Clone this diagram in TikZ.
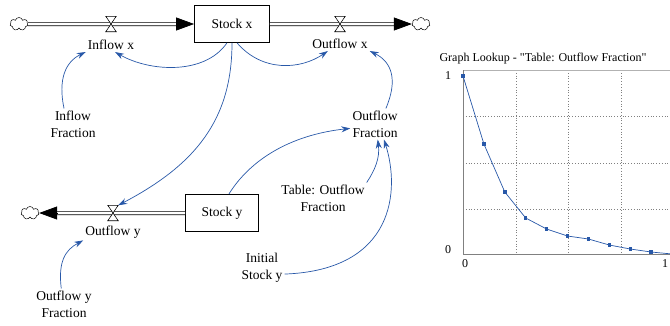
\documentclass[tikz,border=0pt]{standalone}
\usepackage{fontspec}
\setmainfont{Liberation Serif}
\usetikzlibrary{arrows.meta,shapes.symbols}
\definecolor{linkblue}{RGB}{40,88,168}
\newcommand{\dq}{\XeTeXglyph\XeTeXglyphindex "quotedbl" }

\begin{document}
\begin{tikzpicture}[x=1pt,y=1pt,
  font=\fontsize{13.5}{17}\selectfont,
  stock/.style={draw, line width=0.8pt, minimum width=75pt, minimum height=37pt},
  cloudy/.style={cloud, cloud puffs=7, draw, line width=0.5pt, minimum width=18pt, minimum height=13pt, inner sep=0pt},
  valve/.style={minimum width=10pt, minimum height=15pt, inner sep=0pt},
  lbl/.style={align=center, inner sep=2pt},
  pipe/.style={double distance=2.6pt, line width=0.7pt},
  pipehead/.style={-{Triangle[length=18pt,width=13pt]}, line width=0.7pt},
  link/.style={linkblue, line width=0.7pt, -{Stealth[length=9pt,width=6pt]}}]
\clip (0,0) rectangle (670,-325);
% stocks, clouds and valves
\node [stock] (sx) at (232,-24) {Stock x};
\node [stock, minimum width=73pt] (sy) at (222,-213) {Stock y};
\node [cloudy] (c1) at (19,-24) {};
\node [cloudy] (c2) at (421,-24) {};
\node [cloudy] (c3) at (30,-213) {};
\node [valve] (vx) at (111,-24) {};
\node [valve] (vo) at (340,-24) {};
\node [valve] (vy) at (113,-213) {};
% pipes
\draw [pipe] (c1) -- ([xshift=-16pt]sx.west);
\draw [pipehead] ([xshift=-18pt]sx.west) -- (sx.west);
\draw [pipe] (sx.east) -- ([xshift=-16pt]c2.west);
\draw [pipehead] ([xshift=-18pt]c2.west) -- (c2.west);
\draw [pipe] (sy.west) -- ([xshift=16pt]c3.east);
\draw [pipehead] ([xshift=18pt]c3.east) -- (c3.east);
\foreach \v in {vx,vo,vy}
  \draw [line width=0.6pt, fill=white] (\v.north west) -- (\v.north east) -- (\v.south west) -- (\v.south east) -- cycle;
% variables
\node [lbl] (ix) at (111,-45) {Inflow x};
\node [lbl] (ox) at (340,-44) {Outflow x};
\node [lbl] (oy) at (113,-232) {Outflow y};
\node [lbl] (inf) at (73,-124) {Inflow\\Fraction};
\node [lbl] (of) at (375,-124) {Outflow\\Fraction};
\node [lbl] (tof) at (323,-198) {Table: Outflow\\Fraction};
\node [lbl] (isy) at (262,-268) {Initial\\Stock y};
\node [lbl] (oyf) at (64,-304) {Outflow y\\Fraction};
% links
\draw [link] (sx.-105) .. controls (205,-75) and (150,-72) .. (ix.-60);
\draw [link] (sx.-75) .. controls (262,-72) and (300,-70) .. (ox.-150);
\draw [link] (inf.120) .. controls (58,-80) and (65,-62) .. (ix.south west);
\draw [link] (of.55) .. controls (398,-80) and (392,-62) .. (ox.south east);
\draw [link] (sx.south) .. controls (232,-120) and (195,-165) .. (vy.north east);
\draw [link] (sy.70) .. controls (250,-160) and (290,-135) .. (of.-170);
\draw [link] (tof.north east) .. controls (375,-170) and (380,-158) .. (of.-80);
\draw [link] (isy.-15) .. controls (395,-270) and (400,-190) .. (of.-60);
\draw [link] (oyf.100) .. controls (58,-262) and (65,-250) .. (oy.south west);
% lookup graph
\node [font=\fontsize{12}{14}\selectfont] (gt) at (543,-59) {Graph Lookup - \dq Table: Outflow Fraction\dq};
\foreach \gx in {516,568,621}
  \draw [gray, dotted, line width=0.8pt] (\gx,-70) -- (\gx,-254);
\foreach \gy in {116,163,209}
  \draw [gray, dotted, line width=0.8pt] (463,-\gy) -- (673,-\gy);
\draw [gray!60, line width=0.6pt] (463,-70) -- (673,-70);
\draw [gray, line width=0.8pt] (463,-70) -- (463,-254) -- (673,-254);
\draw [linkblue, line width=0.7pt] plot coordinates {(463,-76) (483.9,-144) (504.8,-192) (525.7,-218) (546.6,-229) (567.5,-236) (588.4,-239) (609.3,-245) (630.2,-249) (651.1,-252) (672,-254)};
\foreach \i/\v in {0/76,1/144,2/192,3/218,4/229,5/236,6/239,7/245,8/249,9/252}
  \fill [linkblue] (463+20.9*\i,-\v) +(-1.7,-1.7) rectangle +(1.7,1.7);
\node [font=\fontsize{12}{14}\selectfont] (y1) at (448,-76) {1};
\node [font=\fontsize{12}{14}\selectfont] (y0) at (448,-250) {0};
\node [font=\fontsize{12}{14}\selectfont] (x0) at (465,-264) {0};
\node [font=\fontsize{12}{14}\selectfont] (x1) at (665,-264) {1};
\end{tikzpicture}
\end{document}
